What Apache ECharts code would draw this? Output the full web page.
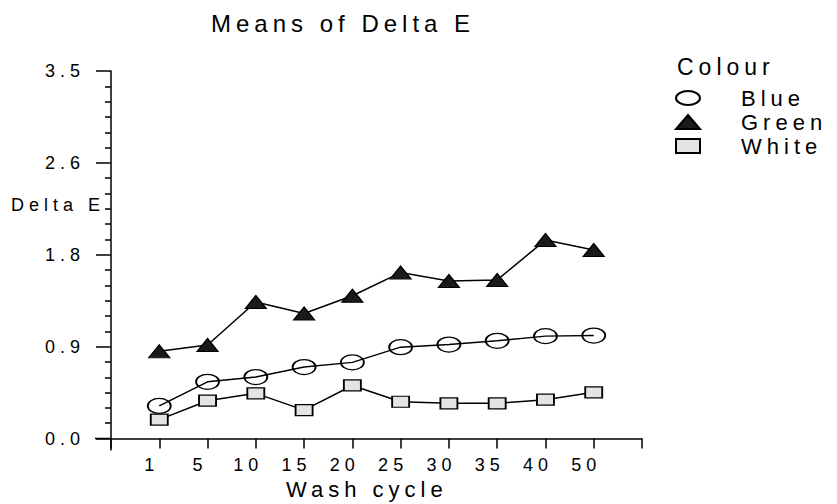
<!DOCTYPE html>
<html>
<head>
<meta charset="utf-8">
<script src="https://cdn.jsdelivr.net/npm/echarts@6/dist/echarts.min.js"></script>
<style>
  html, body { margin: 0; padding: 0; background: #fff; }
  #chart { width: 837px; height: 504px; }
  #chart svg text { letter-spacing: 5px; }
</style>
</head>
<body>
<div id="chart"></div>
<script>
// ---- data ----
const washCycles = ['1', '5', '10', '15', '20', '25', '30', '35', '40', '50'];
const blueValues  = [0.31, 0.54, 0.585, 0.68, 0.725, 0.87, 0.895, 0.93, 0.975, 0.98];
const greenValues = [0.83, 0.89, 1.30, 1.19, 1.36, 1.58, 1.50, 1.51, 1.89, 1.795];
const whiteValues = [0.18, 0.36, 0.43, 0.27, 0.505, 0.35, 0.335, 0.335, 0.37, 0.44];
const yTickLabels = ['0.0', '0.9', '1.8', '2.6', '3.5'];
const seriesNames = ['Blue', 'Green', 'White'];
const titleText = 'Means of Delta E';
const yAxisTitle = 'Delta E';
const xAxisTitle = 'Wash cycle';
const legendTitle = 'Colour';

const FONT = "'Liberation Sans', Arial, sans-serif";
const ellipsePath = 'path://M12,0A12,7,0,1,1,12,14A12,7,0,1,1,12,0Z';

function toPairs(vals) { return vals.map((v, i) => [i + 1, v]); }

const chart = echarts.init(document.getElementById('chart'), null, { renderer: 'svg' });

const yMax = 3.5, yStep = 0.875;

function textGraphics() {
  return [
    { type: 'text', left: 11, top: 196, style: { text: yAxisTitle, fontFamily: FONT, fontSize: 18, fill: '#000' } },
    { type: 'text', left: 677, top: 55, style: { text: legendTitle, fontFamily: FONT, fontSize: 23, fill: '#000' } },
    { type: 'text', left: 286, top: 478, style: { text: xAxisTitle, fontFamily: FONT, fontSize: 22, fill: '#000' } }
  ];
}

const option = {
  animation: false,
  backgroundColor: '#fff',
  title: {
    text: titleText,
    left: 211, top: 11, padding: 0,
    textStyle: { fontFamily: FONT, fontSize: 24, fontWeight: 'normal', color: '#000' }
  },
  grid: { left: 111, right: 195, top: 71, bottom: 65.5, containLabel: false },
  xAxis: {
    type: 'value', min: 0, max: washCycles.length + 1, interval: 1,
    axisLine: { show: true, onZero: false, lineStyle: { color: '#000', width: 1.5 } },
    axisTick: { show: true, inside: false, length: 10, lineStyle: { color: '#000', width: 1.5 } },
    splitLine: { show: false },
    axisLabel: {
      show: true, margin: 17, fontFamily: FONT, fontSize: 18, color: '#000',
      padding: [0, 15, 0, 0],
      showMinLabel: true, showMaxLabel: true,
      formatter: v => (v >= 1 && v <= washCycles.length) ? washCycles[v - 1] : ''
    }
  },
  yAxis: {
    type: 'value', min: 0, max: yMax, interval: yStep,
    axisLine: { show: true, onZero: false, lineStyle: { color: '#000', width: 1.5 } },
    axisTick: { show: true, inside: false, length: 15, lineStyle: { color: '#000', width: 1.5 } },
    minorTick: { show: true, splitNumber: 6, length: 6, lineStyle: { color: '#000', width: 1.5 } },
    splitLine: { show: false },
    axisLabel: {
      margin: 26, fontFamily: FONT, fontSize: 18, color: '#000',
      formatter: v => yTickLabels[Math.round(v / yStep)]
    }
  },
  legend: {
    orient: 'vertical',
    left: 675, top: 87,
    itemWidth: 24, itemHeight: 14, itemGap: 2,
    padding: 0,
    selectedMode: false,
    textStyle: { fontFamily: FONT, fontSize: 22, color: '#000', padding: [0, 0, 0, 36] },
    data: [
      { name: seriesNames[0], icon: ellipsePath },
      { name: seriesNames[1], icon: 'triangle' },
      { name: seriesNames[2], icon: 'rect' }
    ]
  },
  graphic: textGraphics(),
  series: [
    {
      name: seriesNames[0], type: 'line', data: toPairs(blueValues),
      symbol: ellipsePath, symbolSize: [23, 15], z: 2,
      lineStyle: { color: '#000', width: 1.5 },
      itemStyle: { color: 'rgba(255,255,255,0)', borderColor: '#000', borderWidth: 1.5 }
    },
    {
      name: seriesNames[1], type: 'line', data: toPairs(greenValues),
      symbol: 'triangle', symbolSize: [21, 13], z: 3,
      lineStyle: { color: '#000', width: 1.5 },
      itemStyle: { color: '#1a1a1a', borderColor: '#000', borderWidth: 1.2 }
    },
    {
      name: seriesNames[2], type: 'line', data: toPairs(whiteValues),
      symbol: 'rect', symbolSize: [17, 11], z: 4,
      lineStyle: { color: '#000', width: 1.5 },
      itemStyle: { color: '#e4e4e4', borderColor: '#000', borderWidth: 1.5 }
    }
  ]
};

chart.setOption(option);

// small axis-line extensions past the crossing point (as in the original plot)
const origin = chart.convertToPixel({ gridIndex: 0 }, [0, 0]);
chart.setOption({
  graphic: textGraphics().concat([
    { type: 'line', shape: { x1: origin[0] - 16, y1: origin[1], x2: origin[0], y2: origin[1] }, style: { stroke: '#000', lineWidth: 1.5 } },
    { type: 'line', shape: { x1: origin[0], y1: origin[1], x2: origin[0], y2: origin[1] + 12 }, style: { stroke: '#000', lineWidth: 1.5 } }
  ])
});
</script>
</body>
</html>
